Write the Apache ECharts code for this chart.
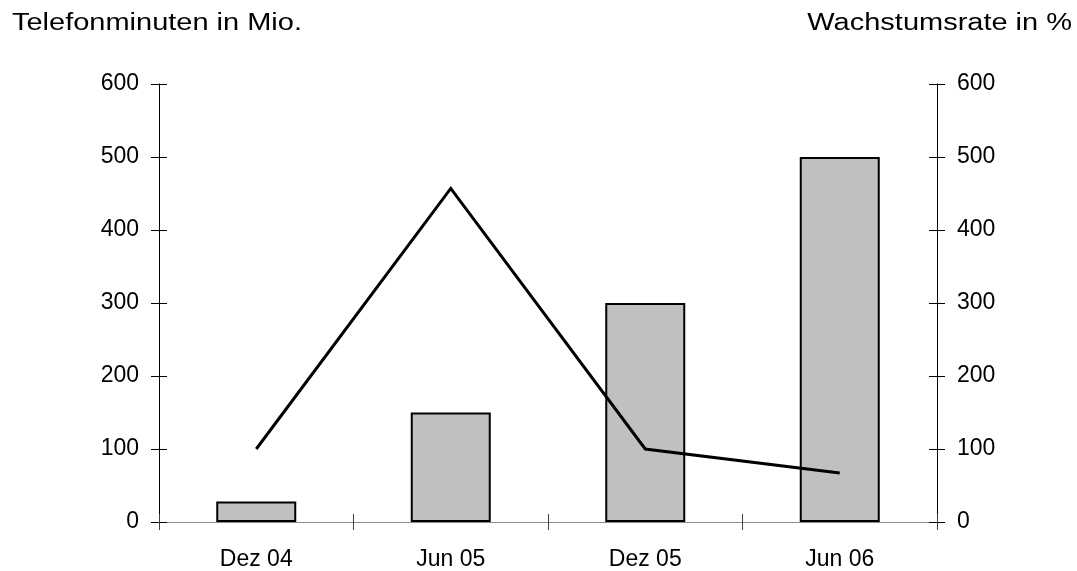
<!DOCTYPE html>
<html>
<head>
<meta charset="utf-8">
<script src="https://cdn.jsdelivr.net/npm/echarts@6/dist/echarts.min.js"></script>
<style>
  html, body { margin: 0; padding: 0; background: #fff; }
  #chart { width: 1077px; height: 571px; }
</style>
</head>
<body>
<div id="chart"></div>
<script>
// Telefonminuten (bars, left axis) and Wachstumsrate (line, right axis)
const categories = ['Dez 04', 'Jun 05', 'Dez 05', 'Jun 06'];
const minutes = [28, 150, 300, 500];
const growthRate = [100, 457, 100, 67];
const leftTitle = 'Telefonminuten in Mio.';
const rightTitle = 'Wachstumsrate in %';

const FONT = '"Liberation Sans", Arial, sans-serif';
const labelStyle = { color: '#000', fontFamily: FONT, fontSize: 23 };

// value axis template: 0..600 in steps of 100
function valueAxis(position, withLabels, inside) {
  return {
    type: 'value',
    position: position,
    min: 0, max: 600, interval: 100,
    splitLine: { show: false },
    axisLine: { show: withLabels, lineStyle: { color: '#000', width: 1 } },
    axisTick: { show: true, inside: inside, length: 8, lineStyle: { color: '#000', width: 1 } },
    axisLabel: Object.assign({ show: withLabels, margin: 20 }, labelStyle)
  };
}

const chart = echarts.init(document.getElementById('chart'), null, { renderer: 'canvas' });
chart.setOption({
  animation: false,
  backgroundColor: '#fff',
  grid: { left: 159, right: 140, top: 84, bottom: 48, containLabel: false },
  graphic: [
    { type: 'text', x: 12, y: 24, scaleX: 1.26,
      style: { text: leftTitle, font: '23px ' + FONT, fill: '#000', textAlign: 'left', textVerticalAlign: 'middle' } },
    { type: 'text', x: 1072, y: 24, scaleX: 1.26,
      style: { text: rightTitle, font: '23px ' + FONT, fill: '#000', textAlign: 'right', textVerticalAlign: 'middle' } }
  ],
  xAxis: [
    {
      type: 'category', data: categories, position: 'bottom',
      axisLine: { lineStyle: { color: '#404040', width: 1 } },
      axisTick: { show: true, alignWithLabel: false, length: 8, lineStyle: { color: '#404040' } },
      axisLabel: Object.assign({ margin: 26 }, labelStyle)
    },
    {
      type: 'category', data: categories, position: 'bottom',
      axisLine: { show: false },
      axisTick: { show: true, inside: true, alignWithLabel: false, length: 8, lineStyle: { color: '#404040' } },
      axisLabel: { show: false }
    },
    {
      type: 'category', data: categories, position: 'top',
      axisLine: { show: true, lineStyle: { color: '#8c8c8c', width: 1 } },
      axisTick: { show: false },
      axisLabel: { show: false }
    }
  ],
  yAxis: [
    valueAxis('left', true, false),
    valueAxis('right', true, false),
    valueAxis('left', false, true),
    valueAxis('right', false, true)
  ],
  series: [
    {
      name: 'Telefonminuten', type: 'bar', data: minutes,
      xAxisIndex: 0, yAxisIndex: 0, barWidth: 80,
      itemStyle: { color: '#c0c0c0', borderColor: '#000', borderWidth: 2 },
      z: 2
    },
    {
      name: 'Wachstumsrate', type: 'line', data: growthRate,
      xAxisIndex: 0, yAxisIndex: 1,
      symbol: 'none', showSymbol: false,
      lineStyle: { color: '#000', width: 3, join: 'miter' },
      z: 3
    }
  ]
});
</script>
</body>
</html>
